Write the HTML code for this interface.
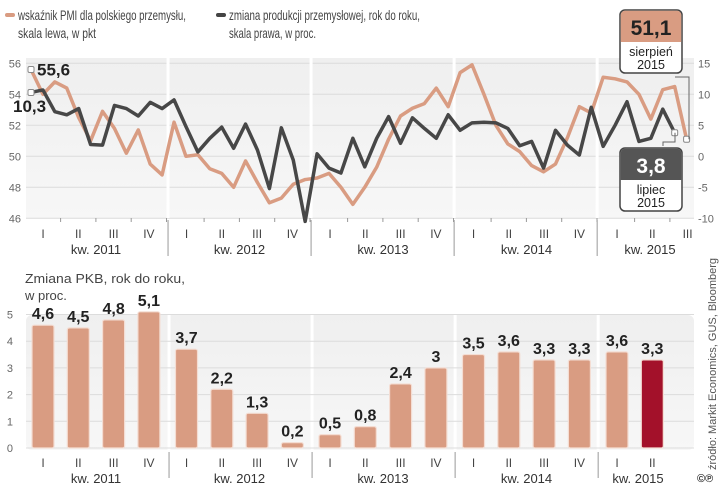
<!DOCTYPE html>
<html><head><meta charset="utf-8"><style>
body{margin:0;background:#fff;}
svg{display:block;font-family:"Liberation Sans",sans-serif;}
</style></head><body>
<svg id="c" width="720" height="486" viewBox="0 0 720 486">
<defs>
<linearGradient id="bg" x1="0" y1="0" x2="0" y2="1"><stop offset="0" stop-color="#efefef"/><stop offset="1" stop-color="#f7f7f7"/></linearGradient>
</defs>
<g>
<rect x="5" y="13" width="10" height="4" rx="2" fill="#d99c82"/>
<text x="18" y="20" font-size="14" fill="#444" textLength="168" lengthAdjust="spacingAndGlyphs">wskaźnik PMI dla polskiego przemysłu,</text>
<text x="18" y="38" font-size="14" fill="#444" textLength="78" lengthAdjust="spacingAndGlyphs">skala lewa, w pkt</text>
<rect x="216" y="13" width="10" height="4" rx="2" fill="#444"/>
<text x="229" y="20" font-size="14" fill="#444" textLength="191" lengthAdjust="spacingAndGlyphs">zmiana produkcji przemysłowej, rok do roku,</text>
<text x="229" y="38" font-size="14" fill="#444" textLength="87" lengthAdjust="spacingAndGlyphs">skala prawa, w proc.</text>
</g>
<g id="topg"></g>
<g id="bot"></g>
<text transform="translate(716,470) rotate(-90)" font-size="11" fill="#555" textLength="212" lengthAdjust="spacingAndGlyphs">źródło: Markit Economics, GUS, Bloomberg</text>
<text x="697" y="482" font-size="11" font-weight="bold" fill="#333">©℗</text>
</svg>
<script>
const pmi=[55.6,54.0,54.8,54.4,52.5,51.0,52.9,51.8,50.2,51.7,49.5,48.8,
52.2,50.0,50.1,49.2,48.9,48.0,49.7,48.3,47.0,47.3,48.2,48.5,
48.6,48.9,48.0,46.9,48.0,49.3,51.1,52.6,53.1,53.4,54.4,53.2,
55.4,55.9,54.0,52.0,50.8,50.3,49.4,49.0,49.5,51.2,53.2,52.8,
55.1,55.0,54.8,54.0,52.4,54.3,54.5,51.1];
const prod=[10.3,10.7,7.2,6.7,7.7,1.9,1.8,8.2,7.7,6.5,8.7,7.7,
9.1,4.8,0.7,2.9,4.7,1.3,5.2,1.0,-5.2,4.6,-0.6,-10.5,
0.4,-1.9,-2.7,2.9,-1.7,2.9,6.4,2.1,6.2,4.5,2.9,6.7,
4.2,5.4,5.5,5.4,4.5,1.7,2.4,-1.9,4.2,1.8,0.2,7.9,
1.6,5.0,8.8,2.4,2.9,7.6,3.8];
const pmiTicks=[46,48,50,52,54,56];
const prodTicks=[-10,-5,0,5,10,15];
const years=["kw. 2011","kw. 2012","kw. 2013","kw. 2014","kw. 2015"];
const quarters=["I","II","III","IV"];
const gdp=[4.6,4.5,4.8,5.1,3.7,2.2,1.3,0.2,0.5,0.8,2.4,3,3.5,3.6,3.3,3.3,3.6,3.3];
const gdpLabels=["4,6","4,5","4,8","5,1","3,7","2,2","1,3","0,2","0,5","0,8","2,4","3","3,5","3,6","3,3","3,3","3,6","3,3"];
const gdpTicks=[0,1,2,3,4,5];

const NS="http://www.w3.org/2000/svg";
function mk(p,t,a,txt){const e=document.createElementNS(NS,t);for(const k in a)e.setAttribute(k,a[k]);if(txt!==undefined)e.textContent=txt;p.appendChild(e);return e;}
const xM=i=>31+11.92*i;
const yL=v=>63.3+(56-v)*15.5;
const yR=v=>63.3+(15-v)*6.2;
const qx=q=>43+Math.floor(q/4)*143.5+(q%4)*35.3;
const yG=v=>448-v*26.7;

const tg=document.getElementById('topg');
const bot=document.getElementById('bot');
let bg=mk(tg,'rect',{x:26,y:58,width:668,height:160,fill:'url(#bg)'});


pmiTicks.forEach(t=>{
 let l=mk(tg,'line',{x1:26,x2:694,y1:yL(t),y2:yL(t),stroke:'#dcdcdc','stroke-width':1});
 
 
 let tx=mk(tg,'text',{x:21,y:yL(t)+4,'font-size':11,fill:'#666','text-anchor':'end'},t);
 
 
});
prodTicks.forEach(t=>{
 let tx=mk(tg,'text',{x:698,y:yR(t)+4,'font-size':11,fill:'#666'},t);
 
 
});
let bt1=mk(bot,'text',{x:25,y:283,'font-size':13,fill:'#444',textLength:160,lengthAdjust:'spacingAndGlyphs'},'Zmiana PKB, rok do roku,');


let bt2=mk(bot,'text',{x:25,y:300,'font-size':13,fill:'#444'},'w proc.');


let bb=mk(bot,'rect',{x:26,y:315,width:668,height:135,rx:6,fill:'url(#bg)'});


for(let y=1;y<5;y++){
 let sx=xM(y*12)-6;
 let s=mk(tg,'rect',{x:sx-1.5,y:58,width:3,height:160,fill:'#fff'});
 
 
 let s2=mk(tg,'line',{x1:sx,x2:sx,y1:220,y2:256,stroke:'#999'});
 
 
 let g2=mk(bot,'rect',{x:sx-0.5,y:315,width:3,height:135,fill:'#fff'});
 
 
 let s3=mk(bot,'line',{x1:sx+1,x2:sx+1,y1:452,y2:478,stroke:'#999'});
 
 
}
for(let q=0;q<19;q++){
 let t=mk(tg,'text',{x:qx(q),y:238,'font-size':12,fill:'#444','text-anchor':'middle'},quarters[q%4]);
 
 
 let tk=mk(tg,'line',{x1:qx(q)+17.6,x2:qx(q)+17.6,y1:218,y2:222,stroke:'#999'});
 
 
}
years.forEach((y,i)=>{
 let t=mk(tg,'text',{x:i==4?650:qx(i*4)+53,y:254,'font-size':13,fill:'#333','text-anchor':'middle'},y);
 
 
});
let l1=mk(tg,'polyline',{points:pmi.map((v,i)=>xM(i)+','+yL(v)).join(' '),fill:'none',stroke:'#d99c82','stroke-width':3.5,'stroke-linejoin':'round'});


let l2=mk(tg,'polyline',{points:prod.map((v,i)=>xM(i)+','+yR(v)).join(' '),fill:'none',stroke:'#474747','stroke-width':3.5,'stroke-linejoin':'round'});


[[xM(0),yL(pmi[0])],[xM(0),yR(prod[0])],[xM(55),yL(pmi[55])],[xM(54),yR(prod[54])]].forEach(p=>{
 let d=mk(tg,'rect',{x:p[0]-3,y:p[1]-3,width:6,height:6,rx:1.5,fill:'#fff',stroke:'#888'});
 
 
});
let a1=mk(tg,'text',{x:37,y:yL(pmi[0])+6,'font-size':17,'font-weight':'bold',fill:'#222'},'55,6');


let a2=mk(tg,'text',{x:13,y:112,'font-size':17,'font-weight':'bold',fill:'#222'},'10,3');


let c1=mk(tg,'polyline',{points:`675,77 689,77 689,${yL(pmi[55])}`,fill:'none',stroke:'#666'});


let c2=mk(tg,'polyline',{points:`663,146 663,142 675,142 675,${yR(prod[54])}`,fill:'none',stroke:'#666'});


function callout(y,fill,val,l1t,l2t,col,name){
 let g=mk(tg,'g',{});
 
 
 mk(g,'rect',{x:620,y:y,width:62,height:63,rx:5,fill:'#fff',stroke:'#444','stroke-width':1.5});
 mk(g,'path',{d:`M620.75 ${y+32} V${y+5} a4.25 4.25 0 0 1 4.25 -4.25 H677 a4.25 4.25 0 0 1 4.25 4.25 V${y+32}Z`,fill:fill});
 mk(g,'text',{x:651,y:y+25,'font-size':21,'font-weight':'bold',fill:col,'text-anchor':'middle'},val);
 mk(g,'text',{x:651,y:y+46,'font-size':12.5,fill:'#222','text-anchor':'middle'},l1t);
 mk(g,'text',{x:651,y:y+59,'font-size':12.5,fill:'#222','text-anchor':'middle'},l2t);
}
callout(10,'#d99c82','51,1','sierpień','2015','#222','pmi-callout');
callout(148,'#555','3,8','lipiec','2015','#fff','prod-callout');

gdpTicks.forEach(t=>{
 let l=mk(bot,'line',{x1:26,x2:694,y1:yG(t),y2:yG(t),stroke:'#dcdcdc'});
 
 
 let tx=mk(bot,'text',{x:13,y:yG(t)+4,'font-size':11,fill:'#666','text-anchor':'end'},t);
 
 
});
gdp.forEach((v,i)=>{
 let r=mk(bot,'rect',{x:qx(i)-11,y:yG(v),width:22,height:Math.max(yG(0)-yG(v),2),rx:2,fill:i==gdp.length-1?'#a3112a':'#d99c82',stroke:'#f4ddd3','stroke-width':1.2});
 
 
 let t=mk(bot,'text',{x:qx(i),y:yG(v)-6,'font-size':16,'font-weight':'bold',fill:'#222','text-anchor':'middle'},gdpLabels[i]);
 
 
 let q=mk(bot,'text',{x:qx(i),y:467,'font-size':12,fill:'#444','text-anchor':'middle'},quarters[i%4]);
 
 
});
years.forEach((y,i)=>{
 let t=mk(bot,'text',{x:i==4?638:qx(i*4)+53,y:483,'font-size':13,fill:'#333','text-anchor':'middle'},y);
 
 
});
</script>
</body></html>
